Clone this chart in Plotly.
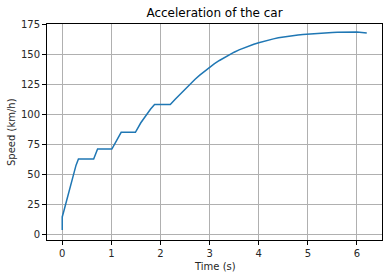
import plotly.graph_objects as go

# Data
time_s = [0.0, 0.0, 0.04, 0.08, 0.12, 0.16, 0.20, 0.24, 0.28, 0.33, 0.64, 0.72, 1.01, 1.20, 1.49,
          1.60, 1.71, 1.80, 1.88,
          2.20, 2.30, 2.40, 2.50, 2.60, 2.70, 2.80, 2.90, 3.00, 3.10, 3.20, 3.30, 3.40, 3.50,
          3.60, 3.70, 3.80, 3.90, 4.00, 4.10, 4.20, 4.30, 4.40, 4.50, 4.60, 4.70, 4.80, 4.90,
          5.00, 5.10, 5.20, 5.30, 5.40, 5.50, 5.60, 5.70, 5.80, 5.90, 6.00, 6.20]
speed_kmh = [4.2, 15.0, 21.0, 27.5, 34.0, 40.5, 46.5, 52.5, 58.0, 63.3, 63.3, 71.6, 71.6, 85.5, 85.5,
             93.5, 100.0, 105.0, 108.8,
             108.8, 113.1, 117.4, 121.6, 125.7, 129.6, 133.2, 136.6, 139.8, 142.7, 145.4, 147.9, 150.2, 152.3,
             154.2, 155.9, 157.5, 158.9, 160.2, 161.4, 162.45, 163.4, 164.25, 165.0, 165.65, 166.2, 166.7, 167.1,
             167.45, 167.75, 168.0, 168.25, 168.5, 168.7, 168.9, 169.0, 169.1, 169.2, 169.2, 168.3]

x_ticks = [0, 1, 2, 3, 4, 5, 6]
y_ticks = [0, 25, 50, 75, 100, 125, 150, 175]

W, H = 389, 278
L, R, T, B = 47, 7, 24, 38

font = dict(family="DejaVu Sans", size=10, color="#262626")

fig = go.Figure()
fig.add_trace(go.Scatter(x=time_s, y=speed_kmh, mode="lines",
                         line=dict(color="#1f77b4", width=1.5), showlegend=False))

axis_common = dict(showline=True, linecolor="black", linewidth=1, mirror=True,
                   ticks="outside", ticklen=4, tickwidth=1, tickcolor="black",
                   showgrid=True, gridcolor="#b0b0b0", gridwidth=1, zeroline=False,
                   tickfont=font)

fig.update_layout(
    width=W, height=H,
    margin=dict(l=L, r=R, t=T, b=B, pad=0),
    paper_bgcolor="white", plot_bgcolor="white",
    xaxis=dict(range=[-0.31, 6.51], tickvals=x_ticks, **axis_common),
    yaxis=dict(range=[-4.2, 175.8], tickvals=y_ticks, **axis_common),
    title=dict(text="Acceleration of the car", x=0.5, xref="paper",
               xanchor="center", y=1 - 12.5 / H, yref="container", yanchor="middle",
               font=dict(family="DejaVu Sans", size=12, color="black")),
)

fig.add_annotation(text="Time (s)", xref="paper", yref="paper", x=0.5,
                   y=-(266 - (H - B)) / (H - T - B), xanchor="center", yanchor="middle",
                   showarrow=False, font=font)
fig.add_annotation(text="Speed (km/h)", xref="paper", yref="paper",
                   x=-(L - 11) / (W - L - R), y=0.5, xanchor="center", yanchor="middle",
                   textangle=-90, showarrow=False, font=font)

fig.write_html("out.html")
